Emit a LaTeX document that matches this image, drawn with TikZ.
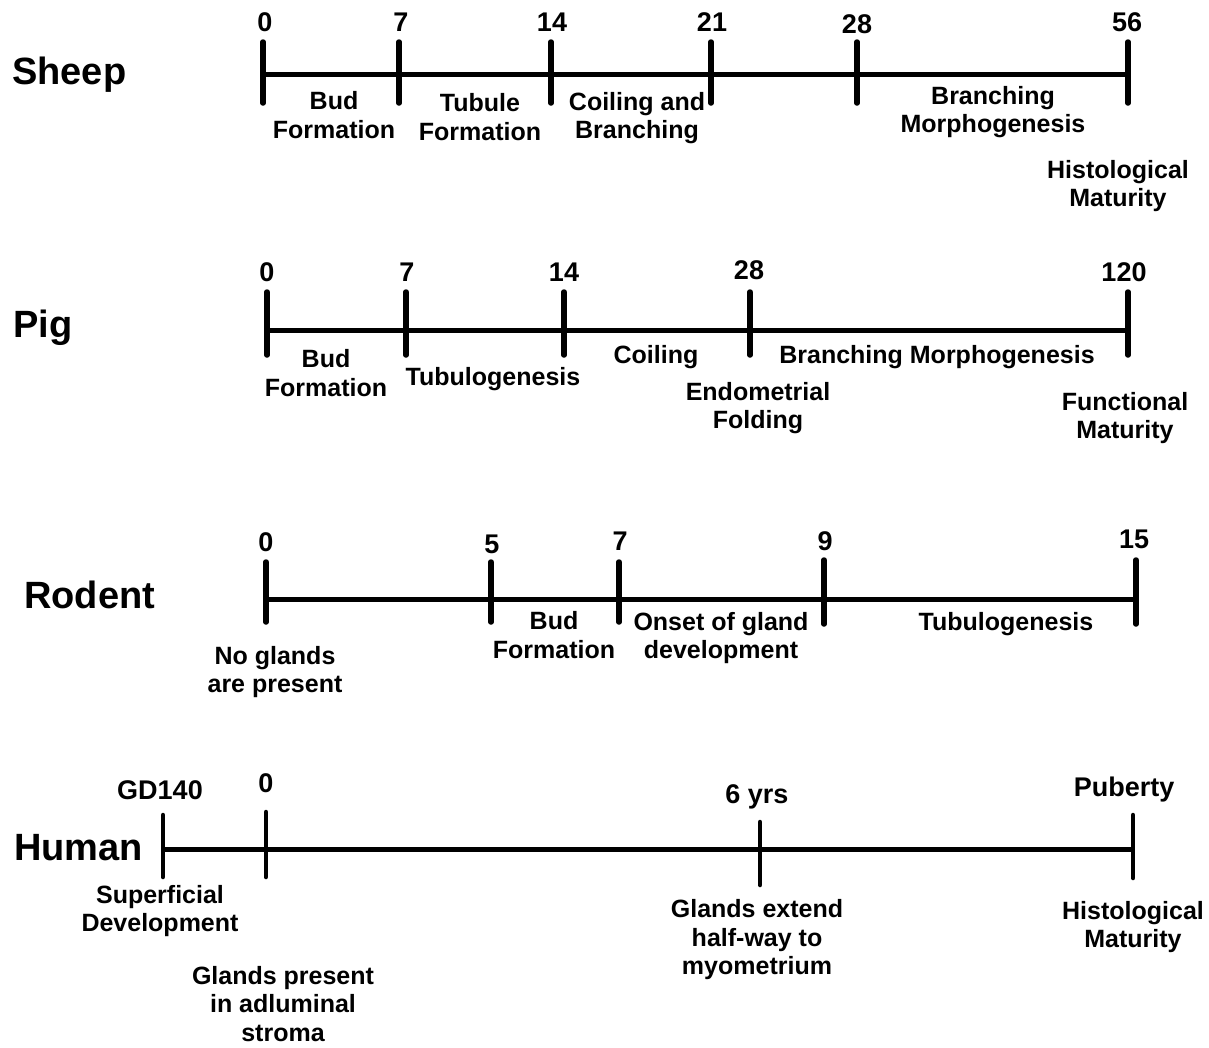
\documentclass[tikz,border=0pt]{standalone}
\usepackage{fontspec}
\setmainfont{Liberation Sans}
\begin{document}
\begin{tikzpicture}[x=1pt,y=-1pt,
  axis/.style={line width=5pt},
  tickmark/.style={line width=5.5pt, line cap=round},
  thintick/.style={line width=4.5pt, line cap=round},
  species/.style={font=\fontsize{38}{40}\selectfont\bfseries, anchor=west, inner sep=0pt},
  daynum/.style={font=\fontsize{27}{28}\selectfont\bfseries, inner sep=0pt},
  phase/.style={font=\fontsize{25}{28.5}\selectfont\bfseries, align=center, inner sep=0pt}]
\useasboundingbox[fill=white] (0,0) rectangle (1209,1047);

% ---------------- Sheep ----------------
\node[species] (sheep) at (12,75) {Sheep};
\coordinate (sheepA) at (263,74);
\coordinate (sheepB) at (1128,74);
\draw[axis] (sheepA) -- (sheepB);
\foreach \x in {263,399,551,711,857,1128}
  \draw[tickmark] (\x,42) -- (\x,103);
\node[daynum] (s0)  at (265,22)  {0};
\node[daynum] (s7)  at (401,22)  {7};
\node[daynum] (s14) at (552,22)  {14};
\node[daynum] (s21) at (712,22)  {21};
\node[daynum] (s28) at (857,24)  {28};
\node[daynum] (s56) at (1127,22) {56};
\node[phase] (sbud)  at (334,115) {Bud\\Formation};
\node[phase] (stub)  at (480,117) {Tubule\\Formation};
\node[phase] (scoil) at (637,118) {Coiling and\\Branching};
\node[phase] (sbr)   at (993,112) {Branching\\Morphogenesis};
\node[phase] (shist) at (1118,186) {Histological\\Maturity};

% ---------------- Pig ----------------
\node[species] (pig) at (13,328) {Pig};
\coordinate (pigA) at (267,330);
\coordinate (pigB) at (1128,330);
\draw[axis] (pigA) -- (pigB);
\foreach \x in {267,406,564,750,1128}
  \draw[tickmark] (\x,292) -- (\x,355);
\node[daynum] (p0)   at (267,272)  {0};
\node[daynum] (p7)   at (407,272)  {7};
\node[daynum] (p14)  at (564,272)  {14};
\node[daynum] (p28)  at (749,270)  {28};
\node[daynum] (p120) at (1124,272) {120};
\node[phase] (pbud)  at (326,373) {Bud\\Formation};
\node[phase] (ptub)  at (493,379) {Tubulogenesis};
\node[phase] (pcoil) at (656,357) {Coiling};
\node[phase] (pbr)   at (937,357) {Branching Morphogenesis};
\node[phase] (pendo) at (758,408) {Endometrial\\Folding};
\node[phase] (pfunc) at (1125,418) {Functional\\Maturity};

% ---------------- Rodent ----------------
\node[species] (rodent) at (24,595) {Rodent};
\coordinate (rodA) at (266,599);
\coordinate (rodB) at (1136,599);
\draw[axis] (rodA) -- (rodB);
\foreach \x/\t/\b in {266/562/622,491/562/622,619/562/622,824/560/624,1136/560/624}
  \draw[tickmark] (\x,\t) -- (\x,\b);
\node[daynum] (r0)  at (266,542)  {0};
\node[daynum] (r5)  at (492,544)  {5};
\node[daynum] (r7)  at (620,541)  {7};
\node[daynum] (r9)  at (825,541)  {9};
\node[daynum] (r15) at (1134,539) {15};
\node[phase] (rbud)  at (554,635) {Bud\\Formation};
\node[phase] (rons)  at (721,638) {Onset of gland\\development};
\node[phase] (rtub)  at (1006,624) {Tubulogenesis};
\node[phase] (rno)   at (275,672) {No glands\\are present};

% ---------------- Human ----------------
\node[species] (human) at (14,848) {Human};
\coordinate (humA) at (163,849);
\coordinate (humB) at (1133,849);
\draw[axis] (humA) -- (humB);
\draw[thintick] (163,815) -- (163,877);
\draw[thintick] (266,812) -- (266,877);
\draw[thintick] (760,822) -- (760,885);
\draw[thintick] (1133,815) -- (1133,878);
\node[daynum] (hgd)  at (160,790)  {GD140};
\node[daynum] (h0)   at (266,783)  {0};
\node[daynum] (h6)   at (757,797)  {6 yrs};
\node[daynum] (hpub) at (1124,790) {Puberty};
\node[phase] (hsup)  at (160,911) {Superficial\\Development};
\node[phase] (hgl)   at (283,1004) {Glands present\\in adluminal\\stroma};
\node[phase] (hext)  at (757,940) {Glands extend\\half-way to\\myometrium};
\node[phase] (hhist) at (1133,927) {Histological\\Maturity};
\end{tikzpicture}
\end{document}
